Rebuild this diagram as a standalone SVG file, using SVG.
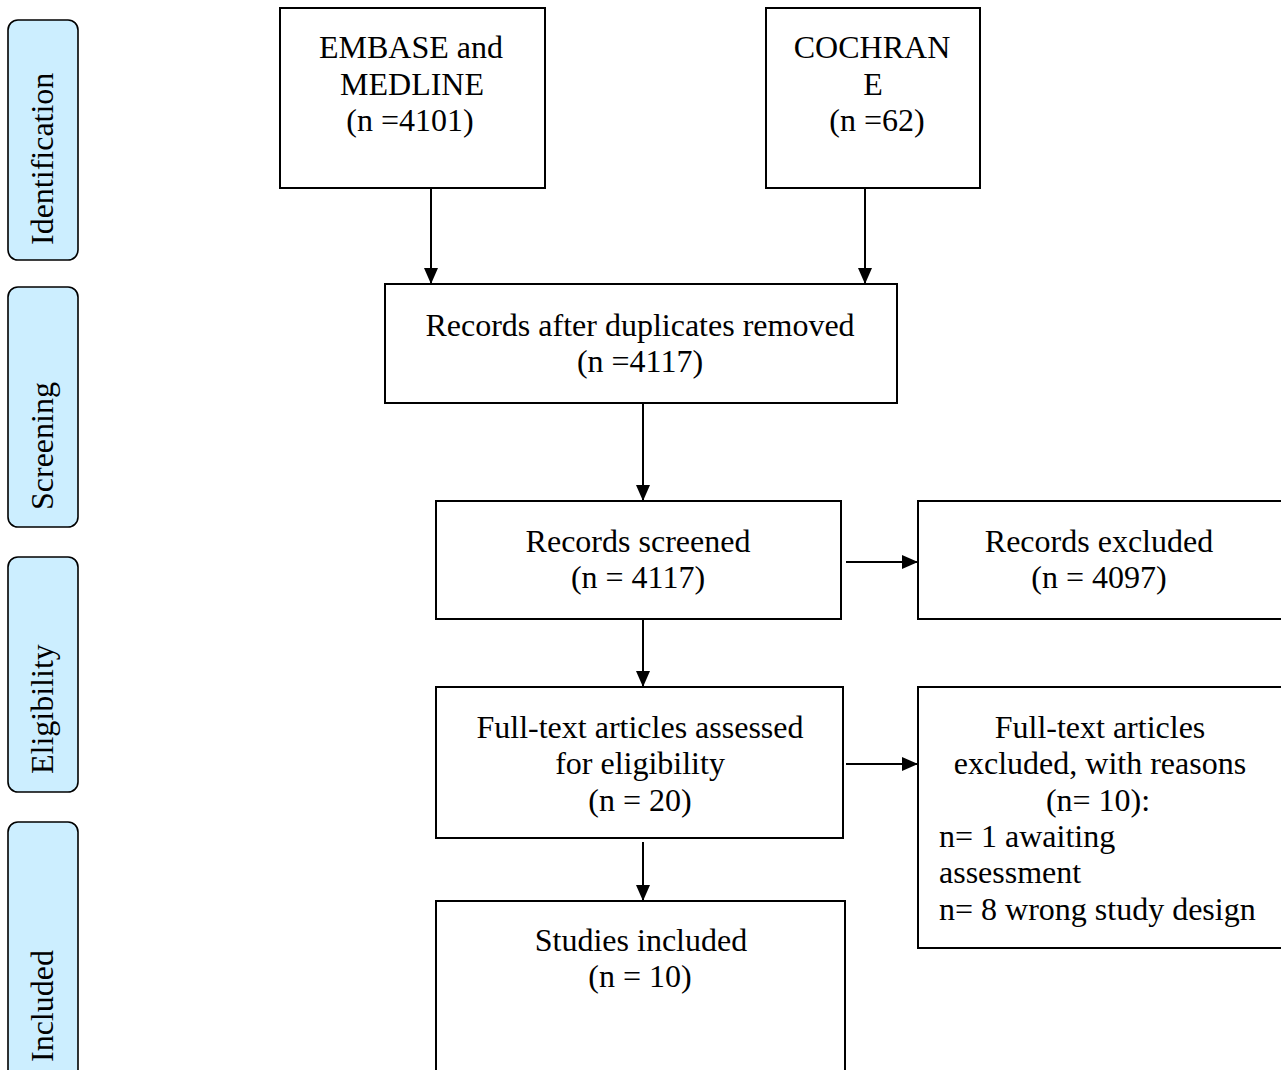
<svg xmlns="http://www.w3.org/2000/svg" width="1281" height="1070" viewBox="0 0 1281 1070">
<style>
.box{fill:#fff;stroke:#000;stroke-width:2}
.side{fill:#cceeff;stroke:#000;stroke-width:1.6}
text{font-family:"Liberation Serif","Times New Roman",serif;font-size:32px;fill:#000}
.c{text-anchor:middle}
.conn line{stroke:#000;stroke-width:2}
</style>
<defs>
<marker id="ah" viewBox="0 0 16 14" refX="16" refY="7" markerWidth="16" markerHeight="14" markerUnits="userSpaceOnUse" orient="auto">
<path d="M0,0 L16,7 L0,14 Z" fill="#000"/>
</marker>
</defs>
<rect width="1281" height="1070" fill="#fff"/>

<g id="lbl-identification">
<rect class="side" x="8" y="20" width="70" height="240" rx="10"/>
<text transform="translate(53,245) rotate(-90)">Identification</text>
</g>
<g id="lbl-screening">
<rect class="side" x="8" y="287" width="70" height="240" rx="10"/>
<text transform="translate(53,510) rotate(-90)">Screening</text>
</g>
<g id="lbl-eligibility">
<rect class="side" x="8" y="557" width="70" height="235" rx="10"/>
<text transform="translate(53,774) rotate(-90)">Eligibility</text>
</g>
<g id="lbl-included">
<rect class="side" x="8" y="822" width="70" height="260" rx="10"/>
<text transform="translate(53,1062) rotate(-90)">Included</text>
</g>

<g id="embase">
<rect class="box" x="280" y="8" width="265" height="180"/>
<text class="c" x="411" y="58">EMBASE and</text>
<text class="c" x="412" y="95">MEDLINE</text>
<text class="c" x="410" y="131">(n =4101)</text>
</g>
<g id="cochrane">
<rect class="box" x="766" y="8" width="214" height="180"/>
<text class="c" x="872" y="58">COCHRAN</text>
<text class="c" x="873" y="95">E</text>
<text class="c" x="877" y="131">(n =62)</text>
</g>
<g id="dedup">
<rect class="box" x="385" y="284" width="512" height="119"/>
<text class="c" x="640" y="336">Records after duplicates removed</text>
<text class="c" x="640" y="372">(n =4117)</text>
</g>
<g id="screened">
<rect class="box" x="436" y="501" width="405" height="118"/>
<text class="c" x="638" y="552">Records screened</text>
<text class="c" x="638" y="588">(n = 4117)</text>
</g>
<g id="excluded">
<rect class="box" x="918" y="501" width="380" height="118"/>
<text class="c" x="1099" y="552">Records excluded</text>
<text class="c" x="1099" y="588">(n = 4097)</text>
</g>
<g id="fulltext">
<rect class="box" x="436" y="687" width="407" height="151"/>
<text class="c" x="640" y="738">Full-text articles assessed</text>
<text class="c" x="640" y="774">for eligibility</text>
<text class="c" x="640" y="811">(n = 20)</text>
</g>
<g id="ft-excluded">
<rect class="box" x="918" y="687" width="380" height="261"/>
<text class="c" x="1100" y="738">Full-text articles</text>
<text class="c" x="1100" y="774">excluded, with reasons</text>
<text class="c" x="1098" y="811">(n= 10):</text>
<text x="939" y="847">n= 1 awaiting</text>
<text x="939" y="883">assessment</text>
<text x="939" y="920">n= 8 wrong study design</text>
</g>
<g id="included">
<rect class="box" x="436" y="901" width="409" height="190"/>
<text class="c" x="641" y="951">Studies included</text>
<text class="c" x="640" y="987">(n = 10)</text>
</g>

<g id="connectors" class="conn">
<line x1="431" y1="188" x2="431" y2="284" marker-end="url(#ah)"/>
<line x1="865" y1="188" x2="865" y2="284" marker-end="url(#ah)"/>
<line x1="643" y1="403" x2="643" y2="501" marker-end="url(#ah)"/>
<line x1="846" y1="562" x2="918" y2="562" marker-end="url(#ah)"/>
<line x1="643" y1="619" x2="643" y2="687" marker-end="url(#ah)"/>
<line x1="846" y1="764" x2="918" y2="764" marker-end="url(#ah)"/>
<line x1="643" y1="842" x2="643" y2="901" marker-end="url(#ah)"/>
</g>
</svg>
